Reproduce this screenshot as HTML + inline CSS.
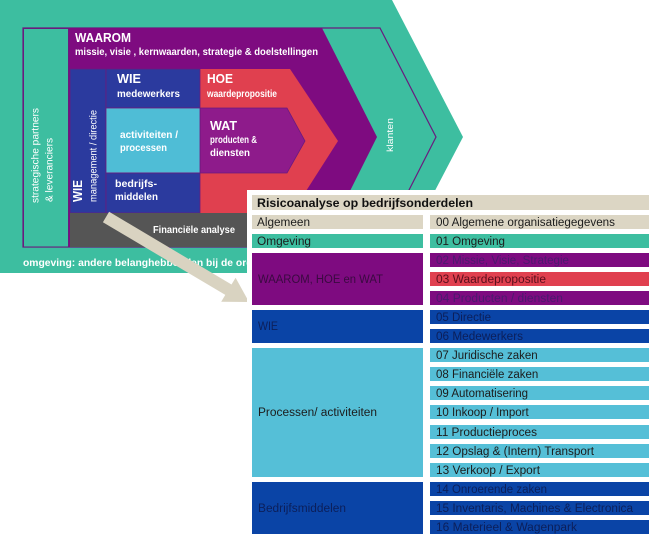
<!DOCTYPE html>
<html><head><meta charset="utf-8"><style>
html,body{margin:0;padding:0;background:#fff;}
svg{display:block;}
text{font-family:"Liberation Sans",Arial,sans-serif;}
.w{fill:#fff;font-weight:bold;}
.t{font-size:11.5px;fill:#1c1c1c;}
</style></head><body>
<svg width="650" height="543" viewBox="0 0 650 543" xmlns="http://www.w3.org/2000/svg">
<rect width="650" height="543" fill="#fff"/>
<!-- outer teal chevron -->
<polygon points="0,0 392,0 463,137 392,273 0,273" fill="#3dbea0"/>
<!-- purple frame line -->
<polygon points="23,28 380,28 436,137 380,247 23,247" fill="none" stroke="#6a1b7e" stroke-width="1.2"/>
<!-- WAAROM purple chevron -->
<polygon points="68,28 322,28 377,137 322,247 68,247" fill="#7e0b80"/>
<!-- strategic partners column -->
<rect x="23.5" y="28.5" width="45" height="218.5" fill="#3dbea0" stroke="#6a1b7e" stroke-width="1"/>
<!-- HOE red chevron -->
<polygon points="200,69 290,69 338,141 292,213 200,213" fill="#e0404f"/>
<!-- WAT chevron -->
<polygon points="200,108 287,108 305,141 287,173 200,173" fill="#8e1b8b" stroke="#6a1b7e" stroke-width="0.8"/>
<!-- blue blocks -->
<rect x="70" y="69" width="36" height="144" fill="#2b3a9e" stroke="#6a1b7e" stroke-width="0.8"/>
<rect x="106" y="69" width="94" height="39" fill="#2b3a9e" stroke="#6a1b7e" stroke-width="0.8"/>
<rect x="106" y="108" width="94" height="65" fill="#4fbdd6" stroke="#6a1b7e" stroke-width="0.8"/>
<rect x="106" y="173" width="94" height="40" fill="#2b3a9e" stroke="#6a1b7e" stroke-width="0.8"/>
<!-- grey band -->
<rect x="70" y="213" width="262" height="34" fill="#555555"/>

<!-- diagram texts -->
<text class="w" x="75" y="42" font-size="13" textLength="56" lengthAdjust="spacingAndGlyphs">WAAROM</text>
<text class="w" x="75" y="55" font-size="10.5" textLength="243" lengthAdjust="spacingAndGlyphs">missie, visie , kernwaarden, strategie &amp; doelstellingen</text>
<text class="w" x="117" y="83" font-size="12.5" textLength="24" lengthAdjust="spacingAndGlyphs">WIE</text>
<text class="w" x="117" y="97" font-size="10" textLength="63" lengthAdjust="spacingAndGlyphs">medewerkers</text>
<text class="w" x="207" y="83" font-size="12.5" textLength="26" lengthAdjust="spacingAndGlyphs">HOE</text>
<text class="w" x="207" y="97" font-size="10" textLength="70" lengthAdjust="spacingAndGlyphs">waardepropositie</text>
<text class="w" x="210" y="130" font-size="12.5" textLength="27" lengthAdjust="spacingAndGlyphs">WAT</text>
<text class="w" x="210" y="143" font-size="10" textLength="47" lengthAdjust="spacingAndGlyphs">producten &amp;</text>
<text class="w" x="210" y="156" font-size="10" textLength="40" lengthAdjust="spacingAndGlyphs">diensten</text>
<text class="w" x="120" y="138" font-size="10" textLength="58" lengthAdjust="spacingAndGlyphs">activiteiten /</text>
<text class="w" x="120" y="151" font-size="10" textLength="47" lengthAdjust="spacingAndGlyphs">processen</text>
<text class="w" x="115" y="187" font-size="10" textLength="42" lengthAdjust="spacingAndGlyphs">bedrijfs-</text>
<text class="w" x="115" y="200" font-size="10" textLength="43" lengthAdjust="spacingAndGlyphs">middelen</text>
<text class="w" x="153" y="233" font-size="10" textLength="82" lengthAdjust="spacingAndGlyphs">Financiële analyse</text>
<text class="w" x="23" y="266" font-size="10" textLength="268" lengthAdjust="spacingAndGlyphs">omgeving: andere belanghebbenden bij de organisatie</text>

<!-- vertical texts -->
<text transform="translate(38.5,203) rotate(-90)" fill="#fff" font-size="10" textLength="95" lengthAdjust="spacingAndGlyphs">strategische partners</text>
<text transform="translate(52.5,202) rotate(-90)" fill="#fff" font-size="10" textLength="64" lengthAdjust="spacingAndGlyphs">&amp; leveranciers</text>
<text transform="translate(82,202) rotate(-90)" class="w" font-size="13" textLength="22" lengthAdjust="spacingAndGlyphs">WIE</text>
<text transform="translate(96.5,202) rotate(-90)" fill="#fff" font-size="10" textLength="92" lengthAdjust="spacingAndGlyphs">management / directie</text>
<text transform="translate(393,135) rotate(-90)" fill="#fff" font-size="9" text-anchor="middle" textLength="34" lengthAdjust="spacingAndGlyphs">klanten</text>

<!-- beige arrow -->
<polygon points="109.1,211.8 231.5,284.5 235.6,277.7 249,302 221.2,301.7 225.3,294.9 102.9,222.2" fill="#d9d3c1"/>

<!-- table panel -->
<rect x="247" y="190" width="403" height="353" fill="#fff"/>
<rect x="252" y="195" width="397" height="15" fill="#dcd6c4"/>
<text x="257" y="207" font-size="12" font-weight="bold" fill="#111" textLength="216" lengthAdjust="spacingAndGlyphs">Risicoanalyse op bedrijfsonderdelen</text>

<!-- left blocks -->
<rect x="252" y="215" width="171" height="14" fill="#dcd6c4"/>
<rect x="252" y="234" width="171" height="14" fill="#3dbea0"/>
<rect x="252" y="253" width="171" height="52" fill="#7e0b80"/>
<rect x="252" y="310" width="171" height="33" fill="#0a44a6"/>
<rect x="252" y="348" width="171" height="129" fill="#55bfd7"/>
<rect x="252" y="482" width="171" height="52" fill="#0a44a6"/>
<text class="t" x="257" y="226" textLength="53" lengthAdjust="spacingAndGlyphs">Algemeen</text>
<text class="t" x="257" y="245" textLength="54" lengthAdjust="spacingAndGlyphs">Omgeving</text>
<text class="t" x="258" y="283" fill="#3a0a40" style="fill:#3a0a40" textLength="125" lengthAdjust="spacingAndGlyphs">WAAROM, HOE en WAT</text>
<text class="t" x="258" y="330" style="fill:#0c1f5a" textLength="20" lengthAdjust="spacingAndGlyphs">WIE</text>
<text class="t" x="258" y="416" textLength="119" lengthAdjust="spacingAndGlyphs">Processen/ activiteiten</text>
<text class="t" x="258" y="512" style="fill:#0c1f5a" textLength="88" lengthAdjust="spacingAndGlyphs">Bedrijfsmiddelen</text>

<!-- right rows -->
<rect x="430" y="215" width="219" height="14" fill="#dcd6c4"/>
<rect x="430" y="234" width="219" height="14" fill="#3dbea0"/>
<rect x="430" y="253" width="219" height="14" fill="#7e0b80"/>
<rect x="430" y="272" width="219" height="14" fill="#e0404f"/>
<rect x="430" y="291" width="219" height="14" fill="#7e0b80"/>
<rect x="430" y="310" width="219" height="14" fill="#0a44a6"/>
<rect x="430" y="329" width="219" height="14" fill="#0a44a6"/>
<rect x="430" y="348" width="219" height="14" fill="#55bfd7"/>
<rect x="430" y="367" width="219" height="14" fill="#55bfd7"/>
<rect x="430" y="386" width="219" height="14" fill="#55bfd7"/>
<rect x="430" y="405" width="219" height="14" fill="#55bfd7"/>
<rect x="430" y="425" width="219" height="14" fill="#55bfd7"/>
<rect x="430" y="444" width="219" height="14" fill="#55bfd7"/>
<rect x="430" y="463" width="219" height="14" fill="#55bfd7"/>
<rect x="430" y="482" width="219" height="14" fill="#0a44a6"/>
<rect x="430" y="501" width="219" height="14" fill="#0a44a6"/>
<rect x="430" y="520" width="219" height="14" fill="#0a44a6"/>

<text class="t" x="436" y="226" textLength="179" lengthAdjust="spacingAndGlyphs">00 Algemene organisatiegegevens</text>
<text class="t" x="436" y="245" textLength="69" lengthAdjust="spacingAndGlyphs">01 Omgeving</text>
<text class="t" x="436" y="264" style="fill:#4a1a6e" textLength="133" lengthAdjust="spacingAndGlyphs">02 Missie, Visie, Strategie</text>
<text class="t" x="436" y="283" style="fill:#5a0f1c" textLength="110" lengthAdjust="spacingAndGlyphs">03 Waardepropositie</text>
<text class="t" x="436" y="302" style="fill:#4a1a6e" textLength="127" lengthAdjust="spacingAndGlyphs">04 Producten / diensten</text>
<text class="t" x="436" y="321" style="fill:#0c1f5a">05 Directie</text>
<text class="t" x="436" y="340" style="fill:#0c1f5a" textLength="87" lengthAdjust="spacingAndGlyphs">06 Medewerkers</text>
<text class="t" x="436" y="359">07 Juridische zaken</text>
<text class="t" x="436" y="378">08 Financiële zaken</text>
<text class="t" x="436" y="397">09 Automatisering</text>
<text class="t" x="436" y="416">10 Inkoop / Import</text>
<text class="t" x="436" y="436" textLength="101" lengthAdjust="spacingAndGlyphs">11 Productieproces</text>
<text class="t" x="436" y="455" textLength="158" lengthAdjust="spacingAndGlyphs">12 Opslag &amp; (Intern) Transport</text>
<text class="t" x="436" y="474" textLength="104" lengthAdjust="spacingAndGlyphs">13 Verkoop / Export</text>
<text class="t" x="436" y="493" style="fill:#0c1f5a" textLength="111" lengthAdjust="spacingAndGlyphs">14 Onroerende zaken</text>
<text class="t" x="436" y="512" style="fill:#0c1f5a" textLength="197" lengthAdjust="spacingAndGlyphs">15 Inventaris, Machines &amp; Electronica</text>
<text class="t" x="436" y="531" style="fill:#0c1f5a" textLength="141" lengthAdjust="spacingAndGlyphs">16 Materieel &amp; Wagenpark</text>
</svg>
</body></html>
